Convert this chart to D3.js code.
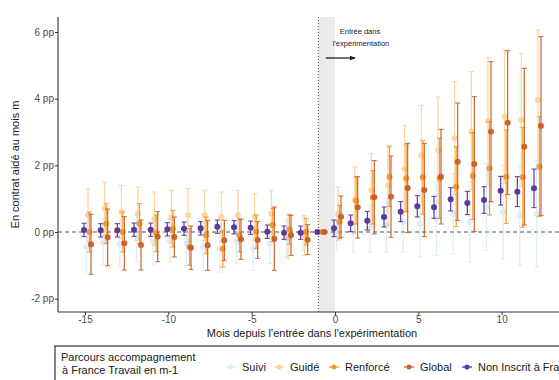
<!DOCTYPE html>
<html><head><meta charset="utf-8">
<script src="https://cdn.jsdelivr.net/npm/d3@7"></script>
<style>body{margin:0;background:#fff;} svg{display:block;font-family:"Liberation Sans",Arial,sans-serif;}</style>
</head><body><svg id="c" width="559" height="380"></svg>
<script>
const months = [-15,-14,-13,-12,-11,-10,-9,-8,-7,-6,-5,-4,-3,-2,-1,0,1,2,3,4,5,6,7,8,9,10,11,12];
const seriesNames = ["Suivi","Guidé","Renforcé","Global","Non Inscrit à France Travail"];
const yTicks = [-2,0,2,4,6];
const xTicks = [-15,-10,-5,0,5,10];

const suiviVal = [-0.45,-0.3,-0.35,-0.2,-0.3,-0.25,-0.35,-0.45,-0.5,-0.3,-0.5,-0.35,-0.2,-0.05,0,-0.05,0.0,0.1,0.2,0.3,0.25,0.4,0.55,0.3,0.75,0.6,0.5,0.55];
const suiviCI  = [0.75,0.7,0.7,0.7,0.7,0.65,0.65,0.7,0.7,0.65,0.65,0.6,0.55,0.5,0,0.5,0.6,0.7,0.8,0.9,1.0,1.1,1.2,1.2,1.3,1.4,1.5,1.6];
const guideVal = [0.5,0.7,0.6,0.55,0.4,0.45,0.5,0.5,0.45,0.5,0.45,0.55,-0.15,-0.1,0,0.55,0.95,1.25,1.4,1.9,2.3,2.45,2.81,3.01,3.33,3.46,3.36,3.96];
const guideCI  = [0.8,0.8,0.8,0.8,0.8,0.8,0.8,0.75,0.75,0.75,0.7,0.7,0.65,0.6,0,0.8,1.0,1.1,1.2,1.3,1.5,1.6,1.7,1.8,1.9,2.0,2.0,2.1];
const renfVal  = [0.0,0.25,0.0,0.25,-0.04,0.1,-0.45,-0.1,-0.5,-0.1,0.01,0.21,0.08,0.01,0,0.3,0.94,1.04,1.66,1.61,1.64,1.61,1.36,1.68,1.91,1.66,1.64,1.96];
const renfCI   = [0.6,0.6,0.6,0.6,0.55,0.55,0.55,0.55,0.55,0.5,0.5,0.5,0.45,0.4,0,0.5,0.7,0.8,0.9,1.0,1.1,1.2,1.2,1.3,1.4,1.4,1.5,1.5];
const globVal  = [-0.37,-0.16,-0.34,-0.39,-0.14,-0.15,-0.47,-0.4,-0.25,-0.22,-0.24,-0.2,-0.1,-0.23,0,0.46,0.74,1.04,1.06,1.32,1.26,1.66,2.11,2.04,3.01,3.28,2.56,3.18];
const globCI   = [0.9,0.85,0.8,0.75,0.75,0.6,0.65,0.75,0.6,0.6,0.55,0.95,0.6,0.45,0,0.62,0.92,1.1,1.22,1.34,1.4,1.42,1.76,2.02,2.1,2.16,2.35,2.68];
const nonInsVal= [0.06,0.05,0.05,0.07,0.07,0.08,0.1,0.11,0.16,0.14,0.13,0.01,-0.02,-0.02,0,0.11,0.26,0.34,0.45,0.61,0.77,0.74,0.98,0.87,0.96,1.24,1.21,1.31];
const nonInsCI = [0.2,0.2,0.2,0.2,0.2,0.2,0.2,0.2,0.2,0.2,0.2,0.2,0.2,0.2,0,0.25,0.25,0.28,0.3,0.3,0.32,0.33,0.35,0.35,0.4,0.43,0.45,0.58];

const colors = ["#a9d4ea","#fcbf6a","#f5901f","#c4561c","#5a3a9c"];
const opac   = [0.4,0.65,0.9,0.9,1];
const offsets= [0.09,0.18,0.27,0.36,-0.06];

const series = [
  {name:seriesNames[0], val:suiviVal, ci:suiviCI},
  {name:seriesNames[1], val:guideVal, ci:guideCI},
  {name:seriesNames[2], val:renfVal, ci:renfCI},
  {name:seriesNames[3], val:globVal, ci:globCI},
  {name:seriesNames[4], val:nonInsVal, ci:nonInsCI}
];

const svg = d3.select("#c");
const L=58, R=566, T=17, B=312;
const x = d3.scaleLinear().domain([-16.62,13.86]).range([L,R]);
const y = d3.scaleLinear().domain([-2.4,6.45]).range([B,T]);

svg.append("rect").attr("x",x(-1)).attr("y",T).attr("width",x(0)-x(-1)).attr("height",B-T).attr("fill","#ebebeb");
svg.append("line").attr("x1",x(-1)).attr("x2",x(-1)).attr("y1",T).attr("y2",B)
  .attr("stroke","#444").attr("stroke-width",1).attr("stroke-dasharray","1,2");
svg.append("line").attr("x1",L).attr("x2",R).attr("y1",y(0)).attr("y2",y(0))
  .attr("stroke","#555").attr("stroke-width",1.1).attr("stroke-dasharray","4,3");

const yAxis = d3.axisLeft(y).tickValues(yTicks).tickSize(3).tickFormat(d=>d+" pp");
const gy = svg.append("g").attr("transform",`translate(${L},0)`).call(yAxis);
gy.select(".domain").attr("d",`M0,${T}V${B}`).attr("stroke","#333").attr("stroke-width",1.1);
gy.selectAll(".tick line").attr("stroke","#333");
gy.selectAll(".tick text").attr("fill","#4d4d4d").attr("font-size",10).attr("x",-4);

const xAxis = d3.axisBottom(x).tickValues(xTicks).tickSize(3).tickFormat(d=>d);
const gx = svg.append("g").attr("transform",`translate(0,${B})`).call(xAxis);
gx.select(".domain").attr("d",`M${L},0H${R}`).attr("stroke","#333").attr("stroke-width",1.1);
gx.selectAll(".tick line").attr("stroke","#333");
gx.selectAll(".tick text").attr("fill","#4d4d4d").attr("font-size",10).attr("y",4);

svg.append("text").attr("x",312).attr("y",337).attr("text-anchor","middle").attr("font-size",11).attr("fill","#1a1a1a")
  .text("Mois depuis l'entrée dans l'expérimentation");
svg.append("text").attr("transform",`translate(19,${(T+B)/2}) rotate(-90)`).attr("text-anchor","middle").attr("font-size",11).attr("fill","#1a1a1a")
  .text("En contrat aidé au mois m");

svg.append("text").attr("x",360).attr("y",34).attr("text-anchor","middle").attr("font-size",7.5).attr("fill","#222").text("Entrée dans");
svg.append("text").attr("x",361).attr("y",46).attr("text-anchor","middle").attr("font-size",7.5).attr("fill","#222").text("l'expérimentation");
svg.append("defs").append("marker").attr("id","ah").attr("viewBox","0 0 10 10").attr("refX",9).attr("refY",5)
  .attr("markerWidth",5).attr("markerHeight",5).attr("orient","auto")
  .append("path").attr("d","M0,1L10,5L0,9Z").attr("fill","#111");
svg.append("line").attr("x1",x(-0.55)).attr("x2",x(1.2)).attr("y1",58).attr("y2",58)
  .attr("stroke","#111").attr("stroke-width",1.2).attr("marker-end","url(#ah)");

series.forEach((s,i)=>{
  const g = svg.append("g").attr("opacity",opac[i]);
  const data = months.map((m,j)=>({m, v:s.val[j], c:s.ci[j]}));
  const xm = d=> x(d.m+offsets[i]);
  const eb = data.filter(d=>d.c>0);
  g.selectAll("line.v").data(eb).join("line").attr("x1",xm).attr("x2",xm)
    .attr("y1",d=>y(d.v-d.c)).attr("y2",d=>y(d.v+d.c)).attr("stroke",colors[i]).attr("stroke-width",1.2);
  [-1,1].forEach(sg=>{
    g.selectAll("line.c"+sg).data(eb).join("line").attr("x1",d=>xm(d)-2.5).attr("x2",d=>xm(d)+2.5)
      .attr("y1",d=>y(d.v+sg*d.c)).attr("y2",d=>y(d.v+sg*d.c)).attr("stroke",colors[i]).attr("stroke-width",1);
  });
  g.selectAll("circle").data(data).join("circle").attr("cx",xm).attr("cy",d=>y(d.v)).attr("r",3).attr("fill",colors[i]);
});

const lg = svg.append("g");
lg.append("rect").attr("x",55).attr("y",346).attr("width",620).attr("height",40).attr("fill","#fff").attr("stroke","#333").attr("stroke-width",1.2);
lg.append("text").attr("x",61).attr("y",361).attr("font-size",11).attr("fill","#1a1a1a").text("Parcours accompagnement");
lg.append("text").attr("x",62).attr("y",374).attr("font-size",11).attr("fill","#1a1a1a").text("à France Travail en m-1");
const keyX = [231,279,334,409,467];
series.forEach((s,i)=>{
  const kx = keyX[i], ky = 367;
  const kg = lg.append("g").attr("opacity",opac[i]);
  kg.append("line").attr("x1",kx-5).attr("x2",kx+5).attr("y1",ky).attr("y2",ky).attr("stroke",colors[i]).attr("stroke-width",1.3);
  kg.append("circle").attr("cx",kx).attr("cy",ky).attr("r",2.5).attr("fill",colors[i]);
  lg.append("text").attr("x",kx+11).attr("y",ky+4).attr("font-size",11).attr("fill","#1a1a1a").text(s.name);
});
</script></body></html>
